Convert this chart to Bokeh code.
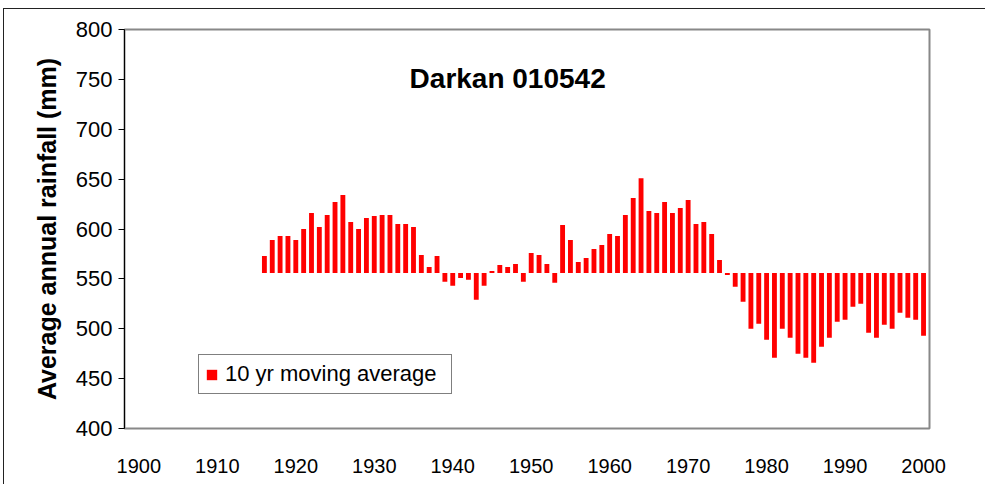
from bokeh.plotting import figure
from bokeh.models import (ColumnDataSource, Range1d, FixedTicker, Label, Legend,
                          LegendItem)
from bokeh.embed import file_html
from bokeh.resources import INLINE

# ---- data ----
years = list(range(1916, 2001))
moving_avg = [
    573, 589, 593, 593, 589, 600, 616, 602, 614, 627, 634, 607,
    600, 611, 613, 614, 614, 605, 605, 602, 574, 562, 573, 547,
    543, 551, 549, 529, 543, 558, 564, 562, 565, 547, 576, 574,
    565, 546, 604, 589, 567, 571, 580, 584, 595, 593, 614, 631, 651,
    618, 616, 627, 616, 621, 629, 605, 607, 595, 569, 554, 542,
    527, 500, 505, 489, 471, 500, 491, 475, 471, 466, 482, 491, 507,
    509, 522, 525, 496, 491, 504, 500, 516, 511, 509, 493,
]
baseline = 556  # long-term mean: bars hang from it
x_ticks = [1900, 1910, 1920, 1930, 1940, 1950, 1960, 1970, 1980, 1990, 2000]
y_ticks = [400, 450, 500, 550, 600, 650, 700, 750, 800]
title_text = "Darkan 010542"
y_label = "Average annual rainfall (mm)"
legend_label = "10 yr moving average"

src = ColumnDataSource(dict(year=years, value=moving_avg,
                            base=[baseline] * len(years)))

FONT = "Liberation Sans"

p = figure(width=982, height=476, output_backend="svg", toolbar_location=None,
           x_range=Range1d(1898.17, 2000.76), y_range=Range1d(400, 800),
           min_border_left=120, min_border_right=57, min_border_top=20,
           min_border_bottom=57)
p.styles = {"border-left": "1px solid #222", "border-top": "1px solid #222",
            "margin-left": "3px", "margin-top": "8px"}
p.background_fill_color = "white"
p.border_fill_color = "white"
p.outline_line_color = "#888888"
p.outline_line_width = 2
p.xgrid.visible = False
p.ygrid.visible = False

r = p.vbar(x="year", top="value", bottom="base", width=0.62, source=src,
           fill_color="#FF0000", line_color=None)

# y axis
ya = p.yaxis[0]
ya.ticker = FixedTicker(ticks=y_ticks)
ya.minor_tick_line_color = None
ya.major_tick_in = 0
ya.major_tick_out = 6
ya.major_tick_line_color = "black"
ya.axis_line_color = "black"
ya.major_label_text_font = FONT
ya.major_label_text_font_size = "22px"
ya.major_label_text_color = "black"
ya.major_label_standoff = 6
ya.axis_label = y_label
ya.axis_label_text_font = FONT
ya.axis_label_text_font_style = "bold"
ya.axis_label_text_font_size = "25px"
ya.axis_label_text_color = "black"
ya.axis_label_standoff = 12

# x axis
xa = p.xaxis[0]
xa.ticker = FixedTicker(ticks=x_ticks)
xa.minor_tick_line_color = None
xa.major_tick_line_color = None
xa.axis_line_color = None
xa.major_label_text_font = FONT
xa.major_label_text_font_size = "20px"
xa.major_label_text_color = "black"
xa.major_label_standoff = 24

p.add_layout(Label(x=1947, y=751, text=title_text, text_font=FONT,
                   text_font_size="28px", text_font_style="bold",
                   text_align="center", text_baseline="middle",
                   text_color="black"))

legend = Legend(items=[LegendItem(label=legend_label, renderers=[r])],
                location=(74, 34), glyph_width=13, glyph_height=13,
                label_text_font=FONT, label_text_font_size="22px",
                label_text_color="black", label_standoff=7, label_width=220,
                padding=6, margin=0, spacing=0, border_line_color="black",
                border_line_width=1, background_fill_color="white",
                background_fill_alpha=1.0)
p.add_layout(legend, "center")

open("out.html", "w").write(file_html(p, INLINE))
